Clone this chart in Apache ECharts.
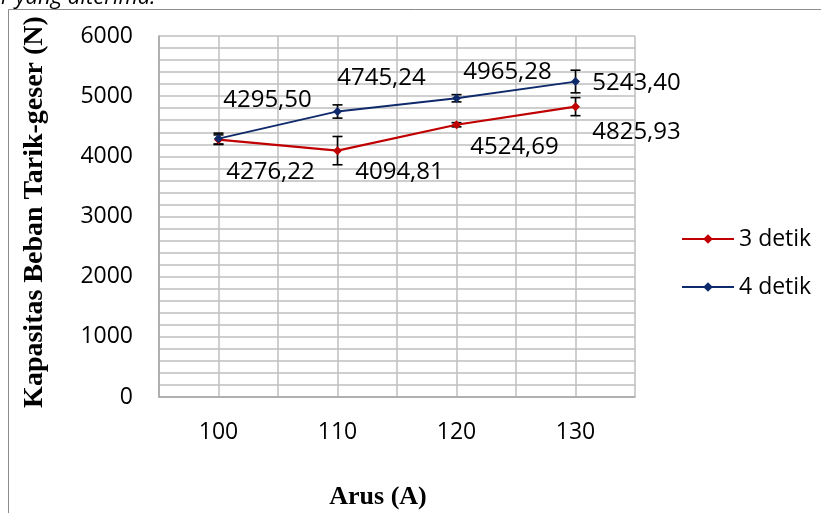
<!DOCTYPE html>
<html>
<head>
<meta charset="utf-8">
<script src="https://cdn.jsdelivr.net/npm/echarts@6/dist/echarts.min.js"></script>
<style>
  html, body { margin: 0; padding: 0; background: #fff; }
  #chart { width: 821px; height: 513px; }
</style>
</head>
<body>
<div id="chart"></div>
<script>
// data
var arus = [100, 110, 120, 130];
var detik3 = [4276.22, 4094.81, 4524.69, 4825.93];
var detik4 = [4295.50, 4745.24, 4965.28, 5243.40];
var err3 = [80, 235, 35, 150];
var err4 = [90, 110, 60, 188];
var xTicks = [100, 110, 120, 130];

// where each value label sits relative to its point (px)
var offs3 = [[52, 32], [62, 22], [58, 22], [61, 26]];
var offs4 = [[49, -38], [44, -33], [51, -26], [61, 2]];

var RED = '#c00000';
var BLUE = '#0f2a6b';
var FONT = 'Open Sans';

function fmt(v) {
  return v.toFixed(2).replace('.', ',');
}

function lineData(vals, offs) {
  return vals.map(function (v, i) {
    return {
      value: [arus[i], v],
      label: { offset: offs[i] }
    };
  });
}

function errData(vals, errs) {
  return vals.map(function (v, i) {
    return [arus[i], v - errs[i], v + errs[i]];
  });
}

function renderErr(params, api) {
  var x = api.value(0);
  var lo = api.coord([x, api.value(1)]);
  var hi = api.coord([x, api.value(2)]);
  var w = 5;
  var st = { stroke: '#000', lineWidth: 1.6 };
  return {
    type: 'group',
    children: [
      { type: 'line', shape: { x1: lo[0], y1: lo[1], x2: hi[0], y2: hi[1] }, style: st },
      { type: 'line', shape: { x1: lo[0] - w, y1: lo[1], x2: lo[0] + w, y2: lo[1] }, style: st },
      { type: 'line', shape: { x1: hi[0] - w, y1: hi[1], x2: hi[0] + w, y2: hi[1] }, style: st }
    ]
  };
}

var myChart = echarts.init(document.getElementById('chart'));
var option;

option = {
  animation: false,
  backgroundColor: '#fff',
  textStyle: { fontFamily: FONT },
  graphic: [
    {
      type: 'rect',
      shape: { x: 8.5, y: 9.5, width: 900, height: 600 },
      style: { fill: 'none', stroke: '#8c8c8c', lineWidth: 1 },
      silent: true
    },
    {
      type: 'text',
      left: 1,
      top: -13,
      style: {
        text: 'r yang diterima.',
        font: 'italic 22px "Open Sans"',
        fill: '#000'
      }
    }
  ],
  grid: { left: 159, right: 186, top: 36, bottom: 116, outerBoundsMode: 'none' },
  legend: {
    data: ['3 detik', '4 detik'],
    orient: 'vertical',
    left: 676,
    top: 222,
    itemWidth: 52,
    itemHeight: 12,
    itemGap: 24,
    textStyle: { fontFamily: FONT, fontSize: 23, color: '#000', lineHeight: 24 }
  },
  xAxis: {
    type: 'value',
    min: 95,
    max: 135,
    interval: 5,
    name: 'Arus (A)',
    nameLocation: 'middle',
    nameGap: 87,
    nameTextStyle: {
      fontFamily: 'Liberation Serif',
      fontWeight: 'bold',
      fontSize: 26,
      color: '#000',
      padding: [0, 38, 0, 0]
    },
    axisLine: { show: true, lineStyle: { color: '#a6a6a6', width: 1.5 } },
    axisTick: { show: false },
    splitLine: { show: true, lineStyle: { color: '#bfbfbf', width: 1.5 } },
    axisLabel: {
      margin: 24,
      fontFamily: FONT,
      fontSize: 23,
      color: '#000',
      formatter: function (v) {
        return xTicks.indexOf(v) >= 0 ? String(v) : '';
      }
    }
  },
  yAxis: {
    type: 'value',
    min: 0,
    max: 6000,
    interval: 1000,
    name: 'Kapasitas Beban Tarik-geser (N)',
    nameLocation: 'middle',
    nameGap: 110,
    nameRotate: 90,
    nameTextStyle: {
      fontFamily: 'Liberation Serif',
      fontWeight: 'bold',
      fontSize: 28,
      color: '#000',
      padding: [0, 0, 0, 9]
    },
    axisLine: { show: true, lineStyle: { color: '#a6a6a6', width: 1.5 } },
    axisTick: { show: false },
    splitLine: { show: true, lineStyle: { color: '#bfbfbf', width: 1.5 } },
    minorTick: { show: false, splitNumber: 5 },
    minorSplitLine: { show: true, lineStyle: { color: '#bfbfbf', width: 1.5 } },
    axisLabel: {
      margin: 26,
      fontFamily: FONT,
      fontSize: 23,
      color: '#000',
      formatter: function (v) { return String(v); }
    }
  },
  series: [
    {
      name: 'err3',
      type: 'custom',
      z: 1,
      renderItem: renderErr,
      data: errData(detik3, err3)
    },
    {
      name: 'err4',
      type: 'custom',
      z: 1,
      renderItem: renderErr,
      data: errData(detik4, err4)
    },
    {
      name: '3 detik',
      type: 'line',
      z: 3,
      data: lineData(detik3, offs3),
      symbol: 'diamond',
      symbolSize: 9,
      itemStyle: { color: RED },
      lineStyle: { color: RED, width: 2.2 },
      label: {
        show: true,
        position: 'inside',
        fontFamily: FONT,
        fontSize: 24,
        color: '#000',
        formatter: function (p) { return fmt(p.value[1]); }
      }
    },
    {
      name: '4 detik',
      type: 'line',
      z: 3,
      data: lineData(detik4, offs4),
      symbol: 'diamond',
      symbolSize: 9,
      itemStyle: { color: BLUE },
      lineStyle: { color: BLUE, width: 1.8 },
      label: {
        show: true,
        position: 'inside',
        fontFamily: FONT,
        fontSize: 24,
        color: '#000',
        formatter: function (p) { return fmt(p.value[1]); }
      }
    }
  ]
};

option && myChart.setOption(option);
</script>
</body>
</html>
